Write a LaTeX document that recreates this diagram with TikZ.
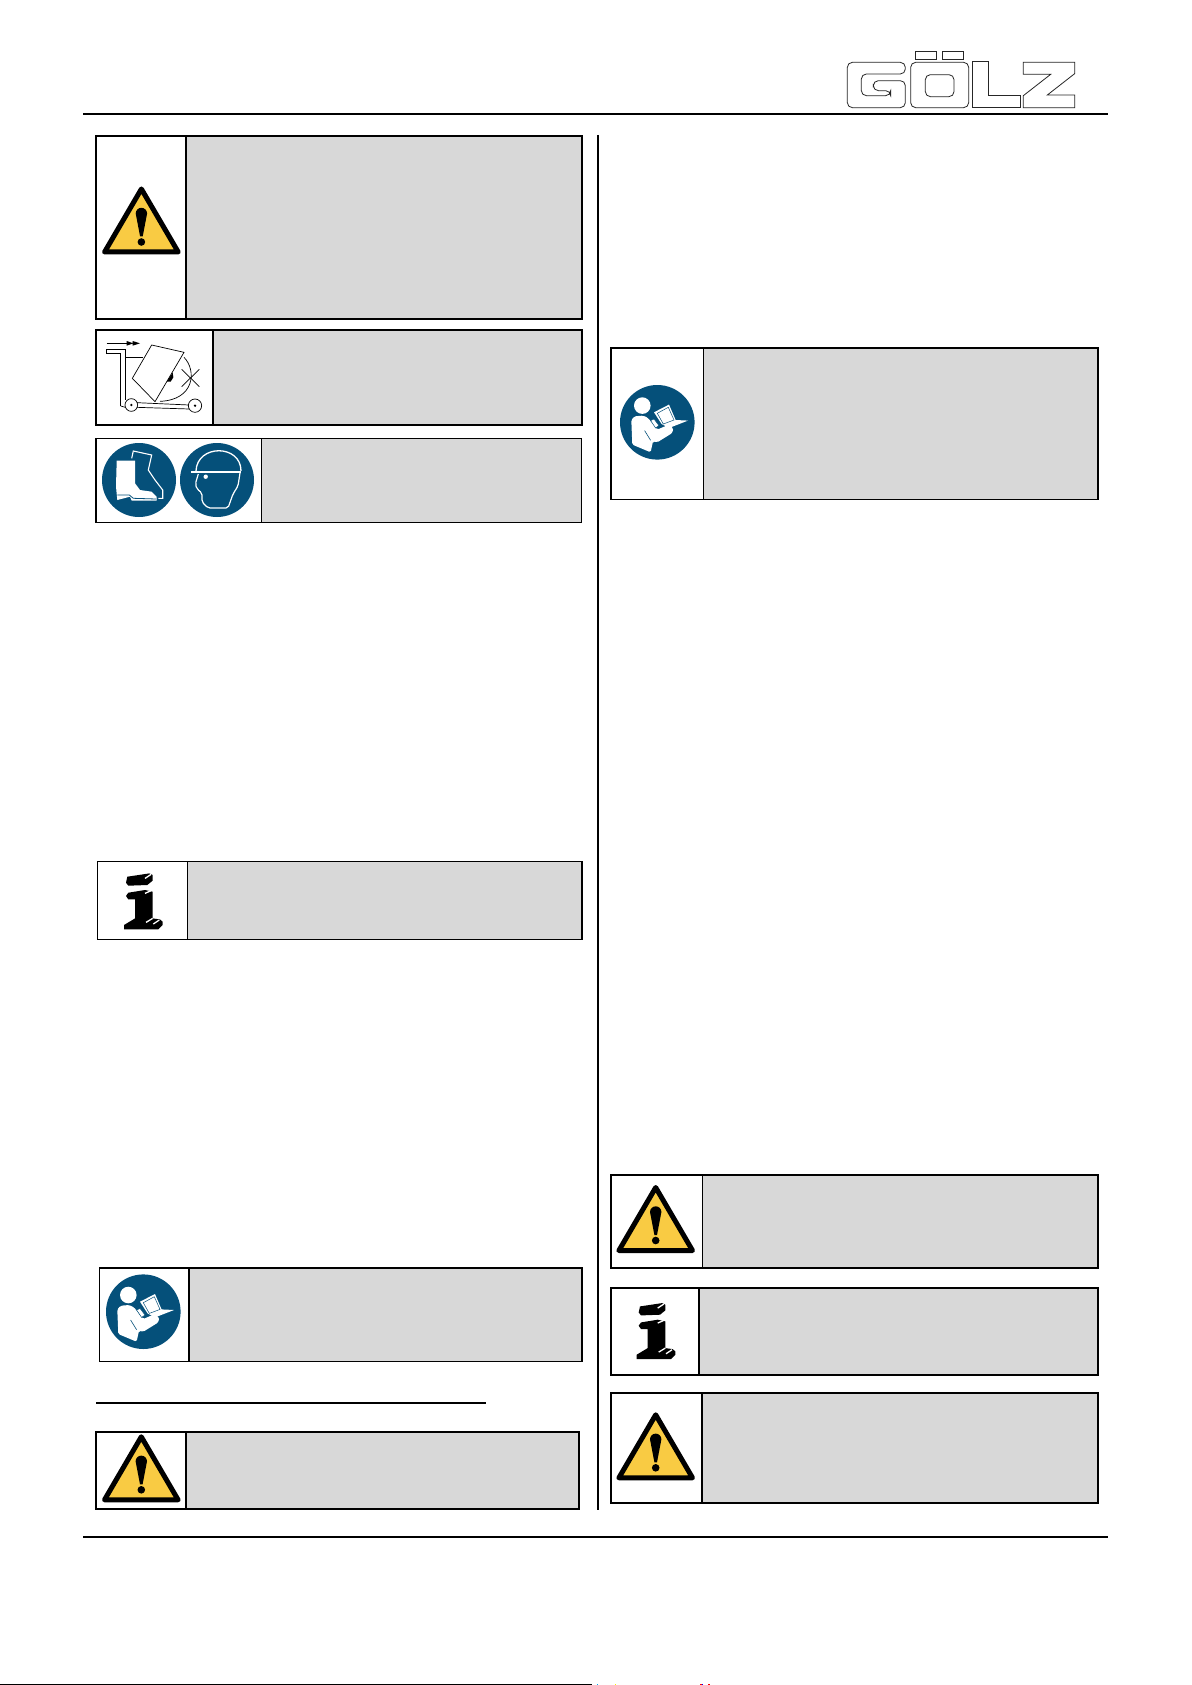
\documentclass[tikz,border=0pt]{standalone}
\usepackage{tikz}
\definecolor{signblue}{HTML}{05507A}
\definecolor{signyellow}{HTML}{F9CB43}
\definecolor{boxgray}{HTML}{D8D8D8}
\tikzset{
	warnsign/.pic={
		\draw[fill=signyellow,line width=5pt,line join=round] (0,2.5) -- (36.8,65.5) -- (-36.8,65.5) -- cycle;
		\fill (-5.7,27) arc (180:360:5.7) -- (1.3,50) -- (-1.3,50) -- cycle;
		\fill (0,55.5) circle (3.8);
	},
	infosign/.pic={
		\fill (-16,-25) -- (6,-28.3) -- (9.3,-26.7) -- (9.3,-21) -- (4,-16.7) -- (-15,-16) -- (-17.3,-19) -- cycle;
		\fill (-15,-9) -- (1.7,-11.7) -- (9.3,-10) -- (9.3,16.7) -- (16.7,17.7) -- (19.3,20) -- (19.3,23.3) -- (15,27.7) -- (-19.3,27.7) -- (-19.3,23.3) -- (-8.3,16.7) -- (-8.3,-2.3) -- (-15,-2.3) -- (-17.3,-5.7) -- cycle;
		\draw[white,line width=1.3pt] (1.7,-23.3) -- (7.7,-27.3) (1.7,-8.3) -- (7.7,-11) (2.7,20.7) -- (9.3,16.7) (10,22.3) -- (16,18.3);
	},
	booksign/.pic={
		\fill[signblue] (0,0) circle (37.3);
		\fill[white] (-15,-16.7) circle (8.3);
		\fill[white,rounded corners=1.5pt] (-26,-2.3) -- (-22.7,-6) -- (-14,-6.7) -- (-9.3,-4.3) -- (0,7.3) -- (10.7,2.7) -- (16,5.7) -- (15,10.7) -- (0,20) -- (-4.3,19) -- (-6.7,30) -- (-25,22.3) -- cycle;
		\draw[signblue,line width=0.6pt] (-12.7,8.3) -- (-6.7,18);
		\fill[white] (-3.3,-10) -- (11.7,-17.7) -- (18.3,-2.3) -- (30.7,-1.7) -- (11.7,5.7) -- (4.3,1.7) -- cycle;
		\draw[signblue,line width=0.5pt] (0,-9) -- (11,-15) -- (16.7,-2.3) -- (6,1.7) -- cycle;
		\draw[signblue,line width=0.5pt,fill=white] (-6.7,-1.7) -- (-3.3,-3.3) -- (1.7,3.3) -- (-1.7,5.7) -- cycle;
	},
}

\begin{document}
\begin{tikzpicture}[x=1pt,y=-1pt,line cap=butt]
	\useasboundingbox[fill=white] (0,0) rectangle (1191,1685);

	\draw[line width=2pt] (83,114) -- (1108,114);
	\draw[line width=2pt] (83,1536.7) -- (1108,1536.7);
	\draw[line width=2pt] (597.8,135) -- (597.8,1509.5);
	\draw[line width=2pt] (96,1403) -- (486,1403);

	\foreach \xa/\ya/\xb/\yb/\xd/\lw in {96/136/582/319/186/2,96/330.3/582/425/212.9/2,96/438.7/581.8/522.5/261.4/1.2,97.5/861.5/582/939.5/187.7/1.2,99.5/1268/582/1361.5/189/1.5,96/1432/579/1509/186/1.5,611/348/1098/499.5/703.3/1.5,611/1175/1098/1268/702.3/1.4,611/1288/1098/1375/698.8/1.6,611/1393/1098/1503/702/1.8}{
		\fill[boxgray] (\xd,\ya) rectangle (\xb,\yb);
		\draw[line width=\lw pt] (\xa,\ya) rectangle (\xb,\yb) (\xd,\ya) -- (\xd,\yb);
	}

	\pic at (141.4,186.5) {warnsign};
	\pic at (141.3,1434.3) {warnsign};
	\pic at (655.7,1185) {warnsign};
	\pic at (655.7,1412.3) {warnsign};

	\pic at (143.3,901.7) {infosign};
	\pic at (656,1331.4) {infosign};

	\pic at (143.3,1311.7) {booksign};
	\pic at (657.3,422.3) {booksign};

	% trolley
	\begin{scope}[shift={(90,320)},scale=1/3,line width=0.7pt]
		\draw (50,70) -- (110,70);
		\fill (110,63) -- (130,70) -- (110,77) -- cycle (128,63) -- (150,70) -- (128,77) -- cycle;
		\draw (92,258) -- (92,100) -- (50,100) -- (50,88) -- (106,88) -- (106,240);
		\draw (92,258) -- (106,262);
		\draw (106,112) -- (160,112);
		\draw (140,248) -- (297,255) (140,262) -- (297,267);
		\draw (124,255) circle (19) (315,257) circle (20);
		\fill (124,255) circle (4) (315,257) circle (4);
		\draw (185,75) -- (282,97) -- (195,245) -- (127,175) -- cycle;
		\draw (282,112) .. controls (320,150) and (315,240) .. (210,244);
		\draw (275,148) -- (328,200) (328,148) -- (275,200);
		\fill (230,185) -- (248,158) -- (250,172) -- (242,185) -- cycle;
	\end{scope}

	% boots
	\begin{scope}[shift={(139,480)}]
		\fill[signblue] (0,0) circle (37);
		\fill[white] (-22.3,-19.3) -- (-4,-19.3) -- (-4,3.3) -- (1,10) -- (12.7,11.7) -- (17.7,16.7) -- (17.7,20.7) -- (-7.3,20.7) -- (-9,16.7) -- (-21.7,20) -- (-23,6.7) -- cycle;
		\draw[signblue,line width=0.8pt] (-21.7,15) -- (-9.7,15) -- (-5.7,18.3) -- (17,19);
		\draw[white,line width=1.1pt] (-7.3,-21.7) -- (-5.7,-29) -- (12.7,-25) -- (9.3,-10) -- (16,0) -- (23.7,10) -- (23.7,18.3) -- (19.3,18.3);
	\end{scope}

	% helmet
	\begin{scope}[shift={(217,480)}]
		\fill[signblue] (0,0) circle (37);
		\draw[white,line width=1.3pt] (-21,-9) .. controls (-20,-36) and (24,-36) .. (24,-9);
		\draw[white,line width=2pt] (-26,-8.5) -- (24,-8.5);
		\fill[white] (-11.3,-3.3) circle (2.2);
		\draw[white,line width=1.2pt,rounded corners=2pt] (-18.7,-6) -- (-21.7,4) -- (-20,9) -- (-15,13) -- (-15,22) -- (-9,28) -- (11,28) -- (16,14) -- (21,6) -- (23,-7);
	\end{scope}

	% logo
	\begin{scope}[shift={(800,30)},scale=1/3,line width=0.8pt,draw=black!85,rounded corners=5pt]
		\draw (316,132) -- (316,97) -- (142,97) -- (142,233) -- (316,233) -- (316,152) -- (220,152) -- (220,182) -- (272,182) -- (272,197) -- (184,197) -- (184,132) -- cycle;
		\draw (332,97) rectangle (506,233) (376,134) rectangle (462,200);
		\draw[rounded corners=0pt] (347,65) rectangle (410,87) (427,65) rectangle (490,87);
		\draw[rounded corners=0pt] (518,95) -- (565,95) -- (565,195) -- (660,195) -- (660,233) -- (518,233) -- cycle;
		\draw[rounded corners=0pt] (670,97) -- (824,97) -- (824,131) -- (742,195) -- (824,195) -- (824,233) -- (670,233) -- (670,197) -- (752,133) -- (670,133) -- cycle;
	\end{scope}

	% strip at the page foot
	\fill (0,1684) rectangle (592,1685);
	\fill[cyan] (596.5,1684) rectangle (597.5,1685);
	\fill[yellow] (614.5,1684) rectangle (615.5,1685);
	\fill[red] (700,1684) rectangle (701.5,1685);
	\fill[blue] (702,1684) rectangle (703,1685);
	\fill[red] (708,1684) rectangle (709.5,1685);
\end{tikzpicture}
\end{document}
